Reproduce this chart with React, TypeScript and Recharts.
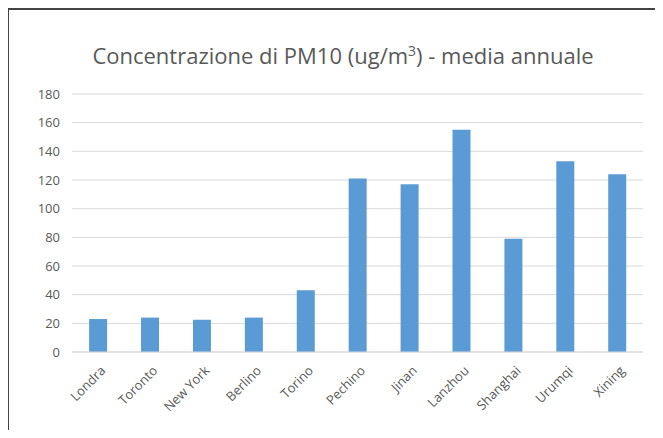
import React from "react";
import { BarChart, Bar, XAxis, YAxis, CartesianGrid } from "recharts";

const cities = [
  "Londra",
  "Toronto",
  "New York",
  "Berlino",
  "Torino",
  "Pechino",
  "Jinan",
  "Lanzhou",
  "Shanghai",
  "Urumqi",
  "Xining",
];
const pm10 = [23, 24, 22.5, 24, 43, 121, 117, 155, 79, 133, 124];
const yTicks = [0, 20, 40, 60, 80, 100, 120, 140, 160, 180];

const data = cities.map((city, i) => ({ city, value: pm10[i] }));

const FONT = "'Open Sans', 'Liberation Sans', sans-serif";
const GREY = "#595959";

const CityTick = (props: any) => {
  const { x, y, payload } = props;
  return (
    <g transform={`translate(${x + 6},${y + 9})`}>
      <text
        transform="rotate(-45)"
        textAnchor="end"
        dominantBaseline="middle"
        fontSize={13}
        fill={GREY}
        fontFamily={FONT}
      >
        {payload.value}
      </text>
    </g>
  );
};

export default function App() {
  return (
    <div
      style={{
        position: "relative",
        margin: -8,
        width: 663,
        height: 438,
        background: "#fff",
        overflow: "hidden",
      }}
    >
      <div
        style={{
          position: "absolute",
          left: 7,
          top: 8,
          right: 0,
          bottom: 0,
          borderTop: "2px solid #444",
          borderLeft: "2px solid #444",
        }}
      />
      <div
        style={{
          position: "absolute",
          left: 0,
          width: 686,
          top: 40,
          textAlign: "center",
          fontFamily: FONT,
          fontSize: 22,
          color: GREY,
          whiteSpace: "nowrap",
        }}
      >
        Concentrazione di PM10 (ug/m<sup style={{ fontSize: 14 }}>3</sup>) - media annuale
      </div>
      <BarChart
        width={663}
        height={438}
        data={data}
        margin={{ top: 94, right: 20, bottom: 0, left: 0 }}
        barCategoryGap="33%"
      >
        <CartesianGrid vertical={false} stroke="#d9d9d9" />
        <XAxis
          dataKey="city"
          height={86}
          axisLine={{ stroke: "#d9d9d9" }}
          tickLine={false}
          interval={0}
          tick={<CityTick />}
        />
        <YAxis
          width={72}
          domain={[0, 180]}
          ticks={yTicks}
          axisLine={false}
          tickLine={false}
          tickSize={0}
          tickMargin={12}
          tick={{ fontSize: 13, fill: GREY, fontFamily: FONT }}
        />
        <Bar dataKey="value" fill="#5b9bd5" isAnimationActive={false} />
      </BarChart>
    </div>
  );
}
